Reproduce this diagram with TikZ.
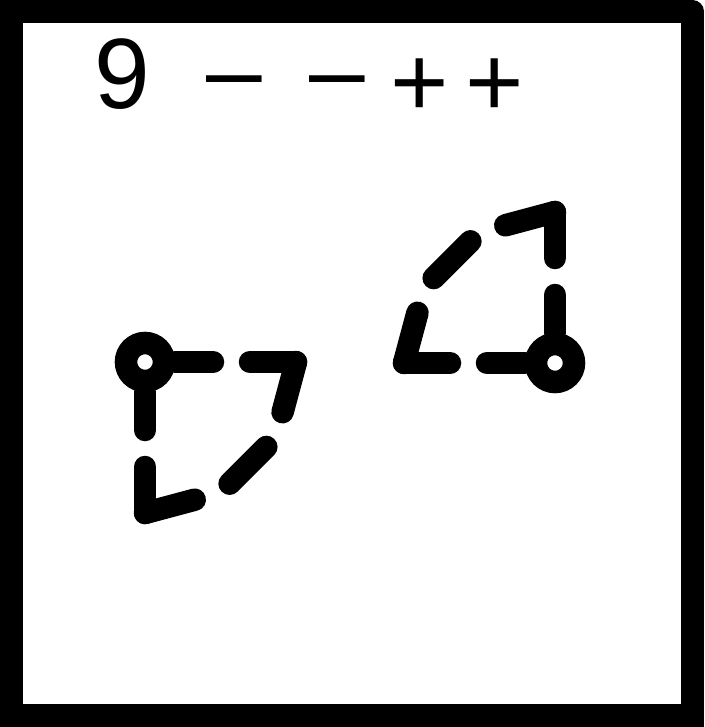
\documentclass[tikz,border=0pt]{standalone}
\usepackage{fontspec}
\setmainfont{Liberation Sans}
\usetikzlibrary{calc}

\begin{document}
\begin{tikzpicture}[
  x=1pt, y=-1pt,
  frameline/.style={line width=23pt, line cap=round, line join=miter},
  glyph/.style={font=\fontsize{100}{100}\selectfont, anchor=base, inner sep=0pt},
  hub/.style={circle, draw, line width=22.5pt, fill=white, minimum size=38pt, inner sep=0pt},
  spoke/.style={line width=22.5pt, line cap=round, dash pattern=on 46pt off 37pt on 100pt off 10pt},
  rim/.style={line width=22.5pt, line cap=round, line join=round, dash pattern=on 52pt off 39.5pt}
]
\useasboundingbox (0,0) rectangle (704,727);
\draw[frameline] (692.5,11.5) -- (692.5,715.5) -- (11.5,715.5) -- (11.5,11.5) -- (692.5,11.5);

\node[glyph] (nine) at (122.5,108.5) {9};
\node[glyph] (minusA) at (234,104.5) {–};
\node[glyph] (minusB) at (337.5,104.5) {–};
\node[glyph] (plusA) at (420,117) {+};
\node[glyph] (plusB) at (495,117) {+};

\node[hub] (hubL) at (145,362) {};
\coordinate (edgeL) at ($(hubL)+(0:151)$);
\coordinate (bendLa) at ($(hubL)+(30:151)$);
\coordinate (bendLb) at ($(hubL)+(60:151)$);
\coordinate (footL) at ($(hubL)+(90:151)$);
\draw[spoke] (edgeL) -- (hubL);
\draw[spoke] (footL) -- (hubL);
\draw[rim] (edgeL) -- (bendLa) -- (bendLb) -- (footL);

\node[hub] (hubR) at (555,363) {};
\coordinate (edgeR) at ($(hubR)+(180:151)$);
\coordinate (bendRa) at ($(hubR)+(210:151)$);
\coordinate (bendRb) at ($(hubR)+(240:151)$);
\coordinate (footR) at ($(hubR)+(270:151)$);
\draw[spoke] (edgeR) -- (hubR);
\draw[spoke] (footR) -- (hubR);
\draw[rim] (edgeR) -- (bendRa) -- (bendRb) -- (footR);
\end{tikzpicture}
\end{document}
